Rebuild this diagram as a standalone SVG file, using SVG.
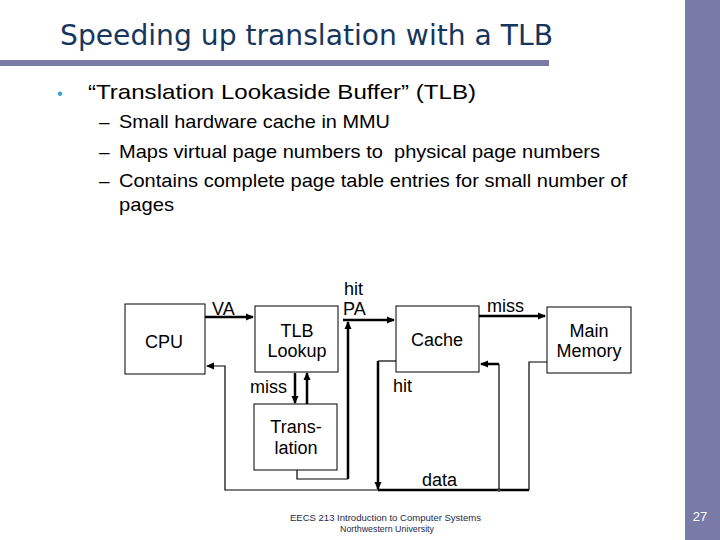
<svg xmlns="http://www.w3.org/2000/svg" width="720" height="540" viewBox="0 0 720 540">
<style>
.title{font-family:"DejaVu Sans",Verdana,sans-serif;font-size:29px;fill:#17365d}
.body{font-family:"Liberation Sans",Arial,sans-serif;fill:#000}
.lbl{font-family:"Liberation Sans",Arial,sans-serif;font-size:18px;fill:#000}
.mid{text-anchor:middle}
.box{fill:#fff;stroke:#000;stroke-width:1}
.thick{fill:none;stroke:#000;stroke-width:2.5}
.thin{fill:none;stroke:#000;stroke-width:1.2}
.foot{font-family:"Liberation Sans",Arial,sans-serif;font-size:9px;fill:#1c2a4a}
</style>
<defs>
<marker id="ah" markerWidth="8" markerHeight="8" refX="7" refY="4" orient="auto" markerUnits="userSpaceOnUse">
<path d="M0,0.5 L8,4 L0,7.5 Z" fill="#000"/>
</marker>
</defs>
<rect width="720" height="540" fill="#fff"/>
<rect x="685" y="0" width="35" height="540" fill="#7a7aa6"/>
<rect x="0" y="60" width="549" height="6" fill="#7a7aa6"/>
<text class="title" x="60" y="45" textLength="493" lengthAdjust="spacingAndGlyphs">Speeding up translation with a TLB</text>
<text x="57" y="99" font-family="Liberation Sans,Arial,sans-serif" font-size="16" fill="#2e9fd0">•</text>
<text class="body" x="88" y="99" font-size="21" textLength="388" lengthAdjust="spacingAndGlyphs">“Translation Lookaside Buffer” (TLB)</text>
<g class="body" font-size="19">
<text x="99" y="128">–</text><text x="119" y="128" textLength="271" lengthAdjust="spacingAndGlyphs">Small hardware cache in MMU</text>
<text x="99" y="158">–</text><text x="119" y="158" xml:space="preserve" textLength="481" lengthAdjust="spacingAndGlyphs">Maps virtual page numbers to  physical page numbers</text>
<text x="99" y="187">–</text><text x="119" y="187" textLength="508" lengthAdjust="spacingAndGlyphs">Contains complete page table entries for small number of</text>
<text x="119" y="211" textLength="55" lengthAdjust="spacingAndGlyphs">pages</text>
</g>
<g id="connectors">
<path class="thick" d="M205,317 L253,317" marker-end="url(#ah)"/>
<path class="thick" d="M343,320 L394,320" marker-end="url(#ah)"/>
<path class="thick" d="M479,316 L545,316" marker-end="url(#ah)"/>
<path class="thick" d="M295,373 L295,403" marker-end="url(#ah)"/>
<path class="thick" d="M307,404 L307,373" marker-end="url(#ah)"/>
<path class="thin" d="M297,470 L297,479 L348,479"/>
<path class="thick" d="M348,479 L348,322" marker-end="url(#ah)"/>
<path class="thin" d="M396,361 L378,361"/>
<path class="thick" d="M378,361 L378,489" marker-end="url(#ah)"/>
<path class="thin" d="M547,362 L529,362 L529,490"/>
<path class="thick" d="M529,490 L378,490"/>
<path class="thin" d="M499,490 L499,364"/>
<path class="thick" d="M499,364 L481,364" marker-end="url(#ah)"/>
<path class="thin" d="M378,490 L225,490 L225,366 L207,366" marker-end="url(#ah)"/>
<circle cx="499" cy="490" r="1.8" fill="#333"/>
</g>
<g id="cpu"><rect class="box" x="125" y="304" width="80" height="70"/><text class="lbl mid" x="164" y="348">CPU</text></g>
<g id="tlb"><rect class="box" x="255" y="306" width="83" height="66"/><text class="lbl mid" x="297" y="337">TLB</text><text class="lbl mid" x="297" y="357">Lookup</text></g>
<g id="cache"><rect class="box" x="396" y="306" width="83" height="66"/><text class="lbl mid" x="437" y="346">Cache</text></g>
<g id="mainmem"><rect class="box" x="547" y="307" width="84" height="66"/><text class="lbl mid" x="589" y="337">Main</text><text class="lbl mid" x="589" y="357">Memory</text></g>
<g id="translation"><rect class="box" x="254" y="404" width="83" height="66"/><text class="lbl mid" x="296" y="433">Trans-</text><text class="lbl mid" x="296" y="454">lation</text></g>
<g id="labels">
<text class="lbl" x="344" y="295" font-size="16">hit</text>
<text class="lbl" x="343" y="315" font-size="17">PA</text>
<text class="lbl" x="212" y="315">VA</text>
<text class="lbl" x="487" y="312">miss</text>
<text class="lbl" x="250" y="393">miss</text>
<text class="lbl" x="393" y="392">hit</text>
<text class="lbl" x="422" y="486">data</text>
</g>
<text class="foot" x="290" y="521" textLength="191" lengthAdjust="spacingAndGlyphs">EECS 213 Introduction to Computer Systems</text>
<text class="foot" x="340" y="532" textLength="94" lengthAdjust="spacingAndGlyphs">Northwestern University</text>
<text x="700" y="521" font-family="Liberation Sans,Arial,sans-serif" font-size="13" fill="#fff" text-anchor="middle">27</text>
</svg>
